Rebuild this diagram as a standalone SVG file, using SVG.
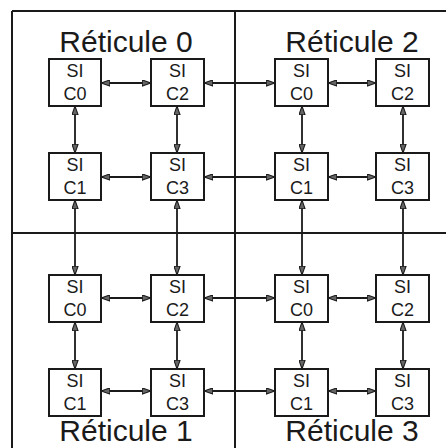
<svg xmlns="http://www.w3.org/2000/svg" width="446" height="448" viewBox="0 0 446 448">
<defs>
<style>
.frame{stroke:#1a1a1a;stroke-width:2;fill:none}
.box{fill:#fff;stroke:#1a1a1a;stroke-width:2}
.lbl{font-family:"Liberation Sans",Arial,sans-serif;font-size:18px;fill:#1a1a1a;text-anchor:middle}
.title{font-family:"Liberation Sans",Arial,sans-serif;font-size:30px;fill:#1a1a1a;text-anchor:middle}
.conn{stroke:#1a1a1a;stroke-width:1.8;fill:none;marker-start:url(#a);marker-end:url(#a)}
</style>
<marker id="a" viewBox="0 0 10 8" refX="10" refY="4" markerWidth="9" markerHeight="7" markerUnits="userSpaceOnUse" orient="auto-start-reverse">
<path d="M0,0.5 L10,4 L0,7.5 Z" fill="#666" stroke="#1a1a1a" stroke-width="1.2"/>
</marker>
</defs>
<g id="frame">
<line class="frame" x1="12" y1="11" x2="446" y2="11"/>
<line class="frame" x1="12" y1="11" x2="12" y2="448"/>
<line class="frame" x1="235" y1="11" x2="235" y2="448"/>
<line class="frame" x1="12" y1="233" x2="446" y2="233"/>
</g>
<g id="titles">
<text class="title" x="126" y="52">Réticule 0</text>
<text class="title" x="352" y="52">Réticule 2</text>
<text class="title" x="126" y="441">Réticule 1</text>
<text class="title" x="352" y="441">Réticule 3</text>
</g>
<g id="connectors">
<line class="conn" x1="101" y1="83" x2="151" y2="83"/>
<line class="conn" x1="204" y1="83" x2="275" y2="83"/>
<line class="conn" x1="328" y1="83" x2="376" y2="83"/>
<line class="conn" x1="101" y1="177" x2="151" y2="177"/>
<line class="conn" x1="204" y1="177" x2="275" y2="177"/>
<line class="conn" x1="328" y1="177" x2="376" y2="177"/>
<line class="conn" x1="101" y1="298" x2="151" y2="298"/>
<line class="conn" x1="204" y1="298" x2="275" y2="298"/>
<line class="conn" x1="328" y1="298" x2="376" y2="298"/>
<line class="conn" x1="101" y1="391" x2="151" y2="391"/>
<line class="conn" x1="204" y1="391" x2="275" y2="391"/>
<line class="conn" x1="328" y1="391" x2="376" y2="391"/>
<line class="conn" x1="75" y1="106" x2="75" y2="153"/>
<line class="conn" x1="75" y1="200" x2="75" y2="275"/>
<line class="conn" x1="75" y1="322" x2="75" y2="369"/>
<line class="conn" x1="177" y1="106" x2="177" y2="153"/>
<line class="conn" x1="177" y1="200" x2="177" y2="275"/>
<line class="conn" x1="177" y1="322" x2="177" y2="369"/>
<line class="conn" x1="302" y1="106" x2="302" y2="153"/>
<line class="conn" x1="302" y1="200" x2="302" y2="275"/>
<line class="conn" x1="302" y1="322" x2="302" y2="369"/>
<line class="conn" x1="403" y1="106" x2="403" y2="153"/>
<line class="conn" x1="403" y1="200" x2="403" y2="275"/>
<line class="conn" x1="403" y1="322" x2="403" y2="369"/>
</g>
<g id="r0c0"><rect class="box" x="49" y="59" width="52" height="47"/><text class="lbl" x="75" y="77">SI</text><text class="lbl" x="75" y="100">C0</text></g>
<g id="r0c2"><rect class="box" x="151" y="59" width="53" height="47"/><text class="lbl" x="177.5" y="77">SI</text><text class="lbl" x="177.5" y="100">C2</text></g>
<g id="r0c1"><rect class="box" x="49" y="153" width="52" height="47"/><text class="lbl" x="75" y="171">SI</text><text class="lbl" x="75" y="194">C1</text></g>
<g id="r0c3"><rect class="box" x="151" y="153" width="53" height="47"/><text class="lbl" x="177.5" y="171">SI</text><text class="lbl" x="177.5" y="194">C3</text></g>
<g id="r2c0"><rect class="box" x="275" y="59" width="53" height="47"/><text class="lbl" x="301.5" y="77">SI</text><text class="lbl" x="301.5" y="100">C0</text></g>
<g id="r2c2"><rect class="box" x="376" y="59" width="53" height="47"/><text class="lbl" x="402.5" y="77">SI</text><text class="lbl" x="402.5" y="100">C2</text></g>
<g id="r2c1"><rect class="box" x="275" y="153" width="53" height="47"/><text class="lbl" x="301.5" y="171">SI</text><text class="lbl" x="301.5" y="194">C1</text></g>
<g id="r2c3"><rect class="box" x="376" y="153" width="53" height="47"/><text class="lbl" x="402.5" y="171">SI</text><text class="lbl" x="402.5" y="194">C3</text></g>
<g id="r1c0"><rect class="box" x="49" y="275" width="52" height="47"/><text class="lbl" x="75" y="293">SI</text><text class="lbl" x="75" y="316">C0</text></g>
<g id="r1c2"><rect class="box" x="151" y="275" width="53" height="47"/><text class="lbl" x="177.5" y="293">SI</text><text class="lbl" x="177.5" y="316">C2</text></g>
<g id="r1c1"><rect class="box" x="49" y="369" width="52" height="47"/><text class="lbl" x="75" y="387">SI</text><text class="lbl" x="75" y="410">C1</text></g>
<g id="r1c3"><rect class="box" x="151" y="369" width="53" height="47"/><text class="lbl" x="177.5" y="387">SI</text><text class="lbl" x="177.5" y="410">C3</text></g>
<g id="r3c0"><rect class="box" x="275" y="275" width="53" height="47"/><text class="lbl" x="301.5" y="293">SI</text><text class="lbl" x="301.5" y="316">C0</text></g>
<g id="r3c2"><rect class="box" x="376" y="275" width="53" height="47"/><text class="lbl" x="402.5" y="293">SI</text><text class="lbl" x="402.5" y="316">C2</text></g>
<g id="r3c1"><rect class="box" x="275" y="369" width="53" height="47"/><text class="lbl" x="301.5" y="387">SI</text><text class="lbl" x="301.5" y="410">C1</text></g>
<g id="r3c3"><rect class="box" x="376" y="369" width="53" height="47"/><text class="lbl" x="402.5" y="387">SI</text><text class="lbl" x="402.5" y="410">C3</text></g>
</svg>
